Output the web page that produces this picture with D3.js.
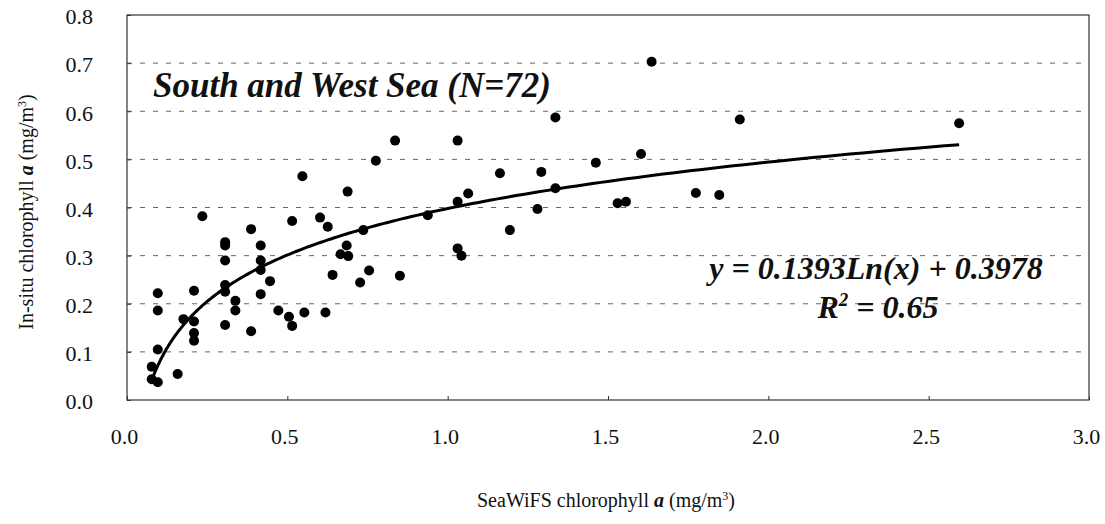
<!DOCTYPE html>
<html>
<head>
<meta charset="utf-8">
<script src="https://cdn.jsdelivr.net/npm/d3@7"></script>
<style>
  html, body { margin: 0; padding: 0; background: #fff; }
  svg { display: block; }
  svg text { font-family: "Liberation Serif", "Times New Roman", Tinos, Times, "DejaVu Serif", serif !important; fill: #111; }
</style>
</head>
<body>
<svg id="chart" width="1105" height="524"></svg>
<script>
// ---- data ----
const seawifs = [0.077,0.077,0.096,0.096,0.096,0.096,0.158,0.176,0.209,0.209,0.209,0.209,0.235,
  0.306,0.306,0.306,0.306,0.306,0.306,0.338,0.338,0.387,0.387,0.417,0.417,0.417,0.417,0.446,
  0.472,0.505,0.515,0.515,0.547,0.553,0.602,0.619,0.626,0.641,0.666,0.685,0.688,0.690,0.727,
  0.737,0.755,0.776,0.836,0.851,0.938,1.031,1.031,1.031,1.043,1.064,1.163,1.194,1.280,1.292,
  1.336,1.336,1.462,1.530,1.556,1.603,1.636,1.774,1.847,1.911,2.595];
const insitu = [0.069,0.043,0.037,0.105,0.186,0.222,0.054,0.168,0.163,0.139,0.123,0.227,0.382,
  0.328,0.321,0.290,0.239,0.225,0.156,0.206,0.186,0.355,0.143,0.321,0.290,0.270,0.220,0.247,
  0.186,0.173,0.154,0.372,0.465,0.182,0.379,0.182,0.360,0.260,0.303,0.321,0.433,0.299,0.244,
  0.353,0.269,0.497,0.539,0.258,0.384,0.539,0.412,0.315,0.300,0.429,0.471,0.353,0.397,0.474,
  0.587,0.440,0.493,0.409,0.412,0.511,0.703,0.430,0.426,0.583,0.575];
const xTicks = [0.0, 0.5, 1.0, 1.5, 2.0, 2.5, 3.0];
const yTicks = [0.0, 0.1, 0.2, 0.3, 0.4, 0.5, 0.6, 0.7, 0.8];
const fitSlope = 0.1393, fitIntercept = 0.3978, rSquared = 0.65;
const titleText = "South and West Sea (N=72)";

// ---- layout ----
const FONT = '"Liberation Serif", "Times New Roman", Tinos, Times, "DejaVu Serif", serif';
const svg = d3.select("#chart");
const L = 127, R = 1089, T = 15, B = 400;
const x = d3.scaleLinear().domain([0, 3]).range([L, R]);
const y = d3.scaleLinear().domain([0, 0.8]).range([B, T]);

// grid lines
svg.append("g").selectAll("line")
  .data(yTicks.filter(v => v > 0 && v < 0.8))
  .join("line")
  .attr("x1", L).attr("x2", R)
  .attr("y1", d => y(d)).attr("y2", d => y(d))
  .attr("stroke", "#666").attr("stroke-width", 1)
  .attr("stroke-dasharray", "5,8");

// frame
svg.append("rect")
  .attr("x", L).attr("y", T).attr("width", R - L).attr("height", B - T)
  .attr("fill", "none").attr("stroke", "#333").attr("stroke-width", 1.2);

// axes
const xAxis = d3.axisBottom(x).tickValues(xTicks).tickFormat(d3.format(".1f"))
  .tickSizeInner(-4).tickSizeOuter(0).tickPadding(28);
const gx = svg.append("g").attr("transform", `translate(0,${B})`).call(xAxis)
  .attr("font-family", FONT);
gx.select(".domain").remove();
gx.selectAll("line").attr("stroke", "#333");
gx.selectAll("text").style("font-size", "22px").attr("dx", "-3");

const yAxis = d3.axisLeft(y).tickValues(yTicks).tickFormat(d3.format(".1f"))
  .tickSizeInner(-4).tickSizeOuter(0).tickPadding(34);
const gy = svg.append("g").attr("transform", `translate(${L},0)`).call(yAxis)
  .attr("font-family", FONT);
gy.select(".domain").remove();
gy.selectAll("line").attr("stroke", "#333");
gy.selectAll("text").style("font-size", "22px").attr("dy", "0.4em");

// axis titles
const xt = svg.append("text").attr("x", 606).attr("y", 507).attr("font-family", FONT)
  .attr("text-anchor", "middle").style("font-size", "20px");
xt.append("tspan").text("SeaWiFS chlorophyll ");
xt.append("tspan").text("a").style("font-style", "italic").style("font-weight", "bold");
xt.append("tspan").text(" (mg/m");
xt.append("tspan").text("3").attr("dy", -7).style("font-size", "12px");
xt.append("tspan").text(")").attr("dy", 7);

const yt = svg.append("text").attr("font-family", FONT)
  .attr("transform", "translate(33,212) rotate(-90)")
  .attr("text-anchor", "middle").style("font-size", "20px");
yt.append("tspan").text("In-situ chlorophyll ");
yt.append("tspan").text("a").style("font-style", "italic").style("font-weight", "bold");
yt.append("tspan").text(" (mg/m");
yt.append("tspan").text("3").attr("dy", -7).style("font-size", "12px");
yt.append("tspan").text(")").attr("dy", 7);

// points
const pts = seawifs.map((v, i) => ({ sx: v, iy: insitu[i] }));
svg.append("g").selectAll("circle").data(pts).join("circle")
  .attr("cx", d => x(d.sx)).attr("cy", d => y(d.iy)).attr("r", 5)
  .attr("fill", "#000");

// logarithmic trendline over the data range
const xmin = d3.min(seawifs), xmax = d3.max(seawifs);
const fitXs = d3.range(0, 201).map(i => xmin * Math.pow(xmax / xmin, i / 200));
const line = d3.line().x(d => x(d)).y(d => y(fitSlope * Math.log(d) + fitIntercept));
svg.append("path").datum(fitXs).attr("d", line)
  .attr("fill", "none").attr("stroke", "#000").attr("stroke-width", 3);

// title
svg.append("text").attr("x", 153).attr("y", 97).attr("font-family", FONT)
  .style("font-size", "35px").style("font-weight", "bold").style("font-style", "italic")
  .text(titleText);

// equation
svg.append("text").attr("x", 876).attr("y", 279).attr("text-anchor", "middle").attr("font-family", FONT)
  .style("font-size", "32px").style("font-weight", "bold").style("font-style", "italic")
  .text(`y = ${fitSlope}Ln(x) + ${fitIntercept}`);
const r2 = svg.append("text").attr("x", 878).attr("y", 318).attr("text-anchor", "middle").attr("font-family", FONT)
  .style("font-size", "32px").style("font-weight", "bold").style("font-style", "italic");
r2.append("tspan").text("R");
r2.append("tspan").text("2").attr("dy", -12).style("font-size", "19px");
r2.append("tspan").text(` = ${rSquared}`).attr("dy", 12);
</script>
</body>
</html>
